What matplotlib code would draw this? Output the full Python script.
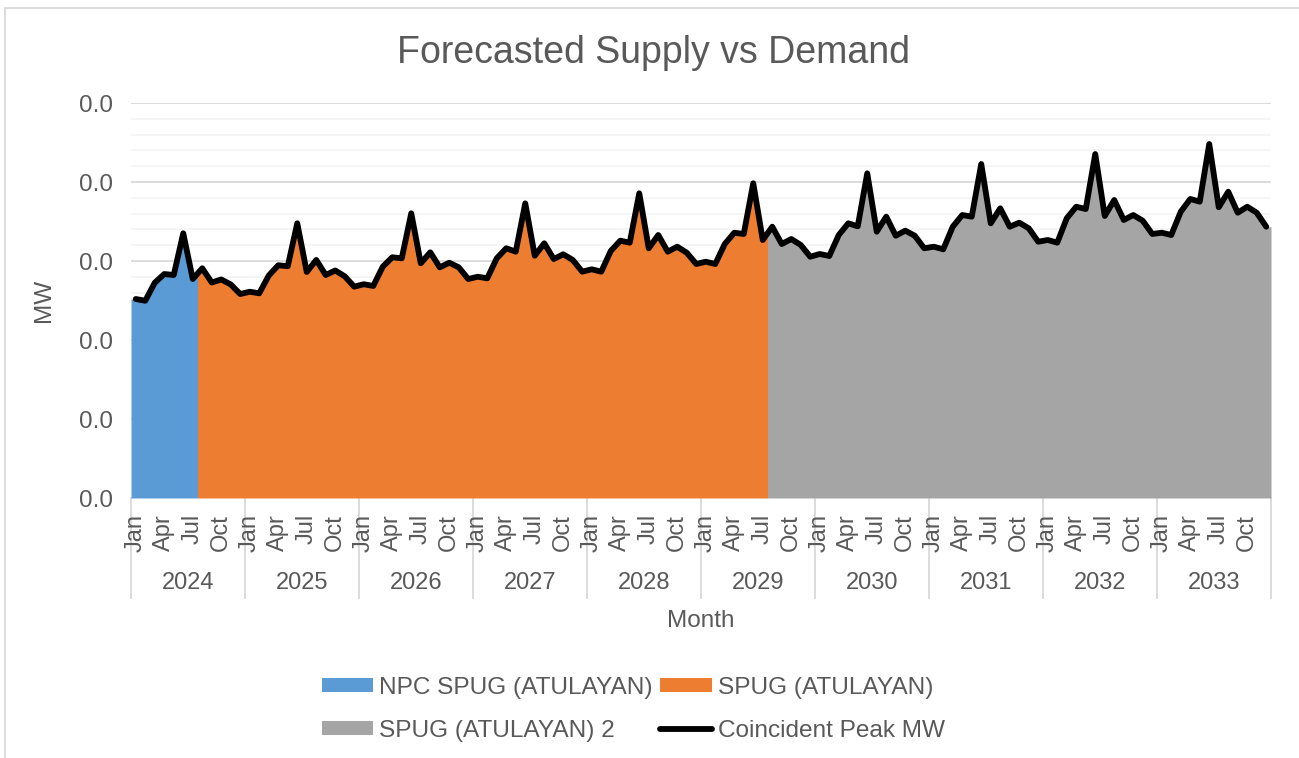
import numpy as np
import matplotlib
matplotlib.use("Agg")
import matplotlib.pyplot as plt
import matplotlib.transforms as mtransforms
from matplotlib.patches import Patch, Rectangle
from matplotlib.lines import Line2D
from matplotlib.ticker import MultipleLocator, FuncFormatter

plt.rcParams['font.family'] = ['Liberation Sans', 'DejaVu Sans']

# ---------------- data ----------------
years = [2024, 2025, 2026, 2027, 2028, 2029, 2030, 2031, 2032, 2033]
month_labels = ["Jan", "Apr", "Jul", "Oct"]
month_label_idx = [0, 3, 6, 9]

# Supply series (MW) - each covers a consecutive run of months
npc_spug = [0.02519, 0.02497, 0.02725, 0.02835, 0.02823, 0.03351, 0.02772]  # Jan-Jul 2024
spug = [0.02908, 0.02728, 0.02766, 0.02703, 0.02582,                      # Aug-Dec 2024
        0.02611, 0.02591, 0.02816, 0.02946, 0.02934, 0.03477, 0.02861, 0.03013, 0.02823, 0.02880, 0.02806, 0.02675,
        0.02706, 0.02684, 0.02928, 0.03047, 0.03034, 0.03604, 0.02971, 0.03110, 0.02920, 0.02978, 0.02920, 0.02772,
        0.02801, 0.02781, 0.03034, 0.03161, 0.03118, 0.03730, 0.03067, 0.03224, 0.03025, 0.03085, 0.03013, 0.02865,
        0.02895, 0.02865, 0.03127, 0.03257, 0.03232, 0.03857, 0.03161, 0.03329, 0.03118, 0.03181, 0.03105, 0.02962,
        0.02991, 0.02962, 0.03215, 0.03358, 0.03342, 0.03984, 0.03266]   # to Jul 2029
spug2 = [0.03434, 0.03215, 0.03278, 0.03203, 0.03054,                    # Aug-Dec 2029
         0.03089, 0.03063, 0.03329, 0.03477, 0.03439, 0.04110, 0.03371, 0.03561, 0.03320, 0.03384, 0.03320, 0.03161,
         0.03181, 0.03148, 0.03434, 0.03582, 0.03561, 0.04228, 0.03477, 0.03667, 0.03434, 0.03485, 0.03414, 0.03244,
         0.03266, 0.03232, 0.03541, 0.03687, 0.03658, 0.04354, 0.03570, 0.03772, 0.03519, 0.03582, 0.03510, 0.03342,
         0.03358, 0.03329, 0.03624, 0.03785, 0.03751, 0.04481, 0.03680, 0.03877, 0.03611, 0.03687, 0.03611, 0.03434]
# Coincident peak demand (MW) - same monthly values as the supply envelope
coincident_peak = npc_spug + spug + spug2

series_names = ["NPC SPUG (ATULAYAN)", "SPUG (ATULAYAN)", "SPUG (ATULAYAN) 2"]
series_colors = ["#5B9BD5", "#ED7D31", "#A5A5A5"]

# ---------------- figure ----------------
W, H = 1299, 758
fig = plt.figure(figsize=(W / 100, H / 100), dpi=100)
ax = fig.add_axes([131 / W, 1 - 498 / H, 1140 / W, 395 / H])

n = len(coincident_peak)
idx = np.arange(n)
peak = np.array(coincident_peak)

start = 0
for vals, col in zip([npc_spug, spug, spug2], series_colors):
    a, b = start, start + len(vals) - 1
    xs = np.concatenate([[a - 0.5], np.arange(a, b + 1), [b + 0.5]])
    ys = np.interp(xs, idx, peak)
    ax.fill_between(xs, 0, ys, color=col, linewidth=0, zorder=2)
    start = b + 1

ax.plot(idx, peak, color="black", linewidth=4.2, solid_joinstyle="round",
        solid_capstyle="round", zorder=3)

ax.set_xlim(-0.5, n - 0.5)
ax.set_ylim(0, 0.05)
ax.yaxis.set_major_locator(MultipleLocator(0.01))
ax.yaxis.set_minor_locator(MultipleLocator(0.002))
ax.yaxis.set_major_formatter(FuncFormatter(lambda v, p: "%.1f" % v))
ax.grid(axis="y", which="major", color="#D9D9D9", linewidth=1.3, zorder=0)
ax.grid(axis="y", which="minor", color="#F2F2F2", linewidth=1.1, zorder=0)
ax.set_axisbelow(True)
for s in ax.spines.values():
    s.set_visible(False)
ax.tick_params(axis="y", which="both", length=0, pad=13, labelsize=17.5, labelcolor="#595959")
ax.set_xticks([])

txtc = "#595959"
trans = mtransforms.blended_transform_factory(ax.transData, ax.transAxes)
for k, yr in enumerate(years):
    for ml, mi in zip(month_labels, month_label_idx):
        ax.text(k * 12 + mi, -0.040, ml, rotation=90, ha="center", va="top",
                fontsize=17, color=txtc, transform=trans)
    ax.text(k * 12 + 5.5, -0.2150, str(yr), ha="center", va="center",
            fontsize=17, color=txtc, transform=trans)
for k in range(len(years) + 1):
    ax.plot([k * 12 - 0.5] * 2, [0, -0.253], color="#D9D9D9", linewidth=1.3,
            transform=trans, clip_on=False, zorder=1)

ax.text(0.5, -0.311, "Month", ha="center", va="center", fontsize=17.5, color=txtc,
        transform=ax.transAxes)
ax.set_ylabel("MW", fontsize=17.5, color=txtc)
ax.yaxis.set_label_coords(-0.0667, 0.5)

fig.text(653 / W, 1 - 53 / H, "Forecasted Supply vs Demand", ha="center", va="center",
         fontsize=27, color=txtc)

# chart border
fig.patches.append(Rectangle((5 / W, -0.05), 1.1, 1 - 8 / H + 0.05, transform=fig.transFigure,
                             fill=False, edgecolor="#D9D9D9", linewidth=1.3))

handles = [Patch(facecolor=series_colors[0], edgecolor="none"),
           Patch(facecolor=series_colors[2], edgecolor="none"),
           Patch(facecolor=series_colors[1], edgecolor="none"),
           Line2D([0], [0], color="black", linewidth=4.2, solid_capstyle="round")]
labels = [series_names[0], series_names[2], series_names[1], "Coincident Peak MW"]
leg = fig.legend(handles, labels, ncol=2, loc="upper left", bbox_to_anchor=(322 / W, 1 - 677 / H),
                 frameon=False, fontsize=17.6, handlelength=2.1, handleheight=0.5,
                 handletextpad=0.25, columnspacing=0.3, labelspacing=0.84, borderpad=0,
                 borderaxespad=0)
for t in leg.get_texts():
    t.set_color(txtc)

fig.savefig("out.png", dpi=100)
